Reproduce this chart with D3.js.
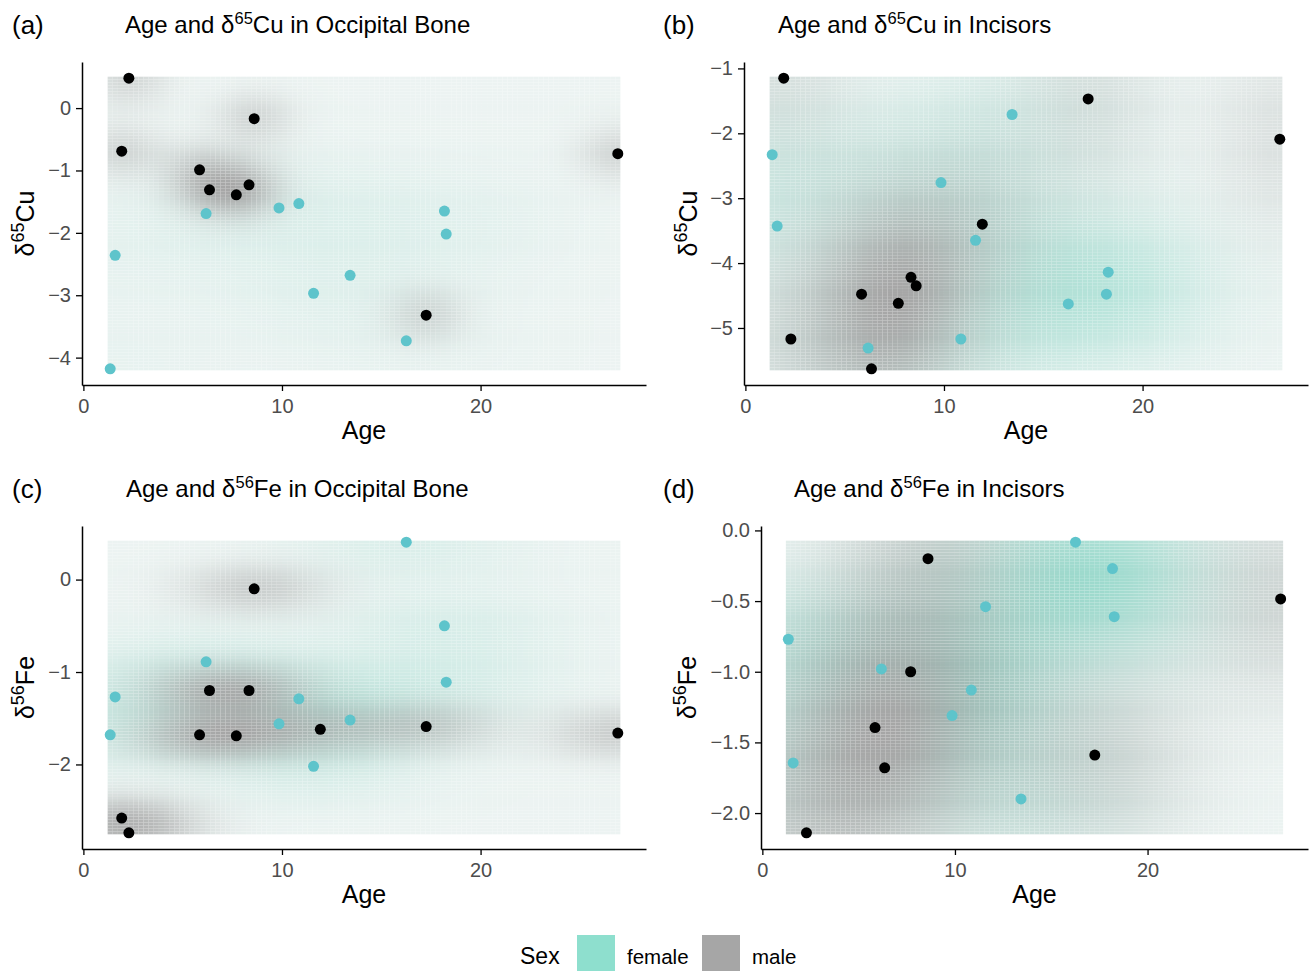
<!DOCTYPE html>
<html>
<head>
<meta charset="utf-8">
<script src="https://cdn.jsdelivr.net/npm/d3@7"></script>
<style>
  body { margin: 0; background: #fff; }
  svg { display: block; font-family: "Liberation Sans", Arial, sans-serif; }
</style>
</head>
<body>
<div id="wrapper"></div>
<script>
// ages of the individuals (same people in every panel)
const femaleAge = [1.35, 1.6, 6.18, 9.85, 10.85, 11.59, 13.43, 16.26, 18.18, 18.27];
const maleAge   = [1.93, 2.29, 5.85, 6.35, 7.7, 8.34, 8.6, 11.93, 17.26, 26.91];

// isotope values, null = not measured
const cuOccFemale = [-4.18, -2.36, -1.69, -1.60, -1.53, -2.97, -2.68, -3.73, -1.65, -2.02];
const cuOccMale   = [-0.69, 0.48, -0.99, -1.31, -1.39, -1.23, -0.17, null, -3.32, -0.73];
const cuIncFemale = [-2.33, -3.43, -5.31, -2.76, -5.17, -3.65, -1.71, -4.63, -4.48, -4.14];
const cuIncMale   = [-1.15, -5.17, -4.48, -5.63, -4.62, -4.22, -4.35, -3.40, -1.47, -2.09];
const feOccFemale = [-1.68, -1.27, -0.89, -1.56, -1.29, -2.02, -1.52, 0.405, -0.50, -1.11];
const feOccMale   = [-2.58, -2.74, -1.68, -1.20, -1.69, -1.20, -0.10, -1.62, -1.59, -1.66];
const feIncFemale = [-0.77, -1.645, -0.98, -1.31, -1.13, -0.54, -1.90, -0.083, -0.27, -0.61];
const feIncMale   = [null, -2.14, -1.395, -1.68, -1.00, null, -0.20, null, -1.59, -0.485];

const xTicks = [0, 10, 20];
const cuOccTicks = [0, -1, -2, -3, -4];
const cuIncTicks = [-1, -2, -3, -4, -5];
const feOccTicks = [0, -1, -2];
const feIncTicks = [0, -0.5, -1, -1.5, -2];

const sexLevels = ["female", "male"];
const fillColors = ["#8EDFCE", "#A6A6A6"];
const pointColors = ["#5EC4CB", "#000000"];

const width = 1311, height = 971;
const svg = d3.select("#wrapper").append("svg")
    .attr("width", width)
    .attr("height", height);

const minus = s => s.replace(/-/g, "\u2212");

const panels = [
  { tag: "(a)", iso: "65", el: "Cu", tissue: "Occipital Bone", f: cuOccFemale, m: cuOccMale,
    yTicks: cuOccTicks, fmt: d3.format("d"),
    box: { left: 82, right: 646, top: 62, bottom: 385 }, tagX: 12, titleX: 125, titleY: 33, yTitleX: 25 },
  { tag: "(b)", iso: "65", el: "Cu", tissue: "Incisors", f: cuIncFemale, m: cuIncMale,
    yTicks: cuIncTicks, fmt: d3.format("d"),
    box: { left: 744, right: 1308, top: 62, bottom: 385 }, tagX: 663, titleX: 778, titleY: 33, yTitleX: 688 },
  { tag: "(c)", iso: "56", el: "Fe", tissue: "Occipital Bone", f: feOccFemale, m: feOccMale,
    yTicks: feOccTicks, fmt: d3.format("d"),
    box: { left: 82, right: 646, top: 526, bottom: 849 }, tagX: 12, titleX: 126, titleY: 497, yTitleX: 25 },
  { tag: "(d)", iso: "56", el: "Fe", tissue: "Incisors", f: feIncFemale, m: feIncMale,
    yTicks: feIncTicks, fmt: d3.format(".1f"),
    box: { left: 761, right: 1308, top: 526, bottom: 849 }, tagX: 663, titleX: 794, titleY: 497, yTitleX: 687 }
];

// MASS::bandwidth.nrd
function bandwidthNrd(v) {
  const s = v.slice().sort(d3.ascending);
  const h = (d3.quantile(s, 0.75) - d3.quantile(s, 0.25)) / 1.34;
  return 4 * 1.06 * Math.min(d3.deviation(s), h) * Math.pow(s.length, -0.2);
}
const phi = z => Math.exp(-0.5 * z * z) / Math.sqrt(2 * Math.PI);

const N = 100;

panels.forEach(p => {
  const groups = [
    femaleAge.map((a, i) => ({ age: a, v: p.f[i] })).filter(d => d.v != null),
    maleAge.map((a, i) => ({ age: a, v: p.m[i] })).filter(d => d.v != null)
  ];
  const all = groups[0].concat(groups[1]);
  const [x0, x1] = d3.extent(all, d => d.age);
  const [y0, y1] = d3.extent(all, d => d.v);
  const dx = (x1 - x0) / (N - 1), dy = (y1 - y0) / (N - 1);
  const gx = d3.range(N).map(i => x0 + i * dx);
  const gy = d3.range(N).map(j => y0 + j * dy);

  // kde2d per sex on the shared grid
  const dens = groups.map(g => {
    const hx = bandwidthNrd(g.map(d => d.age)) / 4;
    const hy = bandwidthNrd(g.map(d => d.v)) / 4;
    const out = [];
    gx.forEach(x => gy.forEach(y => {
      let s = 0;
      g.forEach(d => { s += phi((x - d.age) / hx) * phi((y - d.v) / hy); });
      out.push({ x, y, d: s / (g.length * hx * hy) });
    }));
    return out;
  });
  const dExt = d3.extent(dens[0].concat(dens[1]), c => c.d);
  const alpha = d3.scaleLinear().domain(dExt).range([0.1, 1]);

  const rx0 = x0 - dx / 2, rx1 = x1 + dx / 2, ry0 = y0 - dy / 2, ry1 = y1 + dy / 2;
  const px = 0.05 * (rx1 - rx0), py = 0.05 * (ry1 - ry0);
  const xScale = d3.scaleLinear().domain([rx0 - px, rx1 + px]).range([p.box.left, p.box.right]);
  const yScale = d3.scaleLinear().domain([ry0 - py, ry1 + py]).range([p.box.bottom, p.box.top]);

  // female layer first, male layer drawn over it
  const fc = fillColors.map(c => d3.rgb(c));
  const cells = dens[0].map((c, k) => {
    const af = alpha(c.d), am = alpha(dens[1][k].d);
    const mix = ch => {
      const a = 255 * (1 - af) + fc[0][ch] * af;
      return Math.round(a * (1 - am) + fc[1][ch] * am);
    };
    return { x: c.x, y: c.y, fill: d3.rgb(mix("r"), mix("g"), mix("b")).formatHex() };
  });

  const g = svg.append("g");
  g.append("g").selectAll("rect")
    .data(cells)
    .join("rect")
      .attr("x", d => xScale(d.x - dx / 2))
      .attr("y", d => yScale(d.y + dy / 2))
      .attr("width", d => xScale(d.x + dx / 2) - xScale(d.x - dx / 2))
      .attr("height", d => yScale(d.y - dy / 2) - yScale(d.y + dy / 2))
      .attr("fill", d => d.fill);

  groups.forEach((grp, gi) => {
    g.append("g").selectAll("circle")
      .data(grp)
      .join("circle")
        .attr("cx", d => xScale(d.age))
        .attr("cy", d => yScale(d.v))
        .attr("r", 5.5)
        .attr("fill", pointColors[gi]);
  });

  const xAxis = d3.axisBottom(xScale).tickValues(xTicks).tickSize(6).tickSizeOuter(0).tickPadding(8);
  const yAxis = d3.axisLeft(yScale).tickValues(p.yTicks).tickSize(6).tickSizeOuter(0).tickPadding(5)
    .tickFormat(v => minus(p.fmt(v)));

  const axX = g.append("g").attr("transform", `translate(0,${p.box.bottom})`).call(xAxis);
  const axY = g.append("g").attr("transform", `translate(${p.box.left},0)`).call(yAxis);
  [axX, axY].forEach(a => {
    a.select(".domain").attr("stroke", "#000").attr("stroke-width", 1.5);
    a.selectAll(".tick line").attr("stroke", "#000").attr("stroke-width", 1.3);
    a.selectAll(".tick text").attr("fill", "#4D4D4D").attr("font-size", 20)
      .attr("font-family", "Liberation Sans, Arial, sans-serif");
  });

  // axis titles
  g.append("text")
    .attr("x", (p.box.left + p.box.right) / 2)
    .attr("y", p.box.bottom + 54)
    .attr("text-anchor", "middle")
    .attr("font-size", 25)
    .text("Age");

  const yt = g.append("text")
    .attr("transform", `translate(${p.yTitleX + 9},${(p.box.top + p.box.bottom) / 2}) rotate(-90)`)
    .attr("text-anchor", "middle")
    .attr("font-size", 25);
  yt.append("tspan").text("\u03B4");
  yt.append("tspan").attr("font-size", 18).attr("dy", -10).text(p.iso);
  yt.append("tspan").attr("dy", 10).text(p.el);

  // tag and title
  g.append("text").attr("x", p.tagX).attr("y", p.titleY + 1).attr("font-size", 26).text(p.tag);
  const tt = g.append("text").attr("x", p.titleX).attr("y", p.titleY).attr("font-size", 24);
  tt.append("tspan").text("Age and \u03B4");
  tt.append("tspan").attr("font-size", 16.5).attr("dy", -9).text(p.iso);
  tt.append("tspan").attr("dy", 9).text(`${p.el} in ${p.tissue}`);
});

// legend
const legend = svg.append("g");
legend.append("text").attr("x", 520).attr("y", 964).attr("font-size", 23).text("Sex");
const keyX = [577, 702];
sexLevels.forEach((s, i) => {
  legend.append("rect")
    .attr("x", keyX[i]).attr("y", 935).attr("width", 38).attr("height", 38)
    .attr("fill", fillColors[i]);
  legend.append("text")
    .attr("x", keyX[i] + 50).attr("y", 964).attr("font-size", 20.5)
    .text(s);
});
</script>
</body>
</html>
